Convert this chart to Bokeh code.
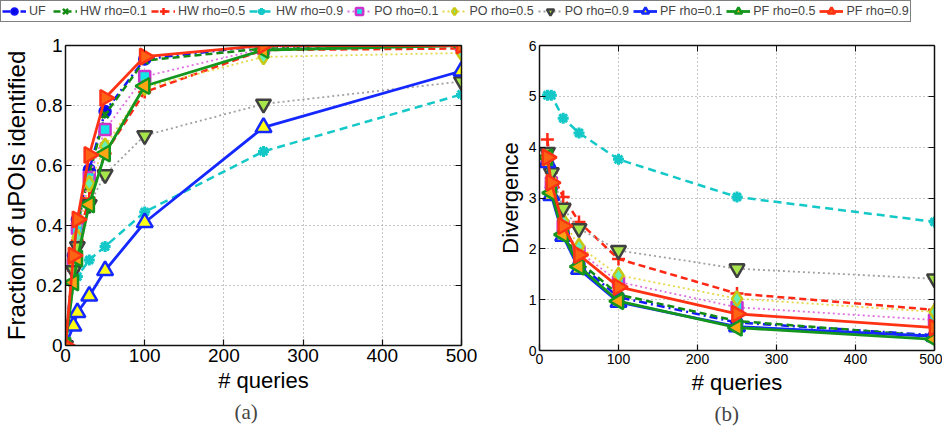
import math
from bokeh.plotting import figure
from bokeh.models import (Legend, LegendItem, FixedTicker, Title, ColumnDataSource,
                          Range1d, LinearAxis)
from bokeh.layouts import column, row
from bokeh.embed import file_html
from bokeh.resources import INLINE

# ---------------- data ----------------
series_names = ["UF", "HW rho=0.1", "HW rho=0.5", "HW rho=0.9", "PO rho=0.1",
                "PO rho=0.5", "PO rho=0.9", "PF rho=0.1", "PF rho=0.5", "PF rho=0.9"]

queries_a = [0, 10, 15, 30, 50, 100, 250, 500]
frac_uf  = [0, 0.30, 0.42, 0.585, 0.78, 0.955, 1.0, 1.0]
frac_hw1 = [0, 0.28, 0.40, 0.57, 0.77, 0.95, 0.99, 1.0]
frac_hw5 = [0, 0.25, 0.35, 0.49, 0.64, 0.845, 0.985, 0.99]
frac_hw9 = [0, 0.21, 0.23, 0.285, 0.33, 0.445, 0.647, 0.837]
frac_po1 = [0, 0.27, 0.39, 0.56, 0.72, 0.897, 0.99, 1.0]
frac_po5 = [0, 0.26, 0.36, 0.54, 0.665, 0.86, 0.962, 0.975]
frac_po9 = [0, 0.25, 0.33, 0.47, 0.57, 0.70, 0.805, 0.88]
frac_pf1 = [0, 0.065, 0.11, 0.165, 0.25, 0.41, 0.727, 0.915]
frac_pf5 = [0, 0.21, 0.29, 0.47, 0.64, 0.865, 0.985, 1.0]
frac_pf9 = [0, 0.30, 0.42, 0.635, 0.825, 0.963, 1.0, 1.0]

queries_b = [10, 15, 30, 50, 100, 250, 500]
div_uf  = [3.7, 3.2, 2.3, 1.7, 1.05, 0.55, 0.30]
div_hw1 = [3.75, 3.2, 2.35, 1.75, 1.1, 0.58, 0.28]
div_hw5 = [4.15, 3.5, 3.02, 2.53, 1.8, 1.12, 0.80]
div_hw9 = [5.02, 5.02, 4.57, 4.28, 3.76, 3.02, 2.53]
div_po1 = [3.75, 3.3, 2.45, 1.95, 1.35, 0.85, 0.60]
div_po5 = [3.8, 3.35, 2.55, 2.05, 1.48, 1.02, 0.76]
div_po9 = [3.9, 3.5, 2.8, 2.4, 1.97, 1.61, 1.41]
div_pf1 = [3.7, 3.05, 2.25, 1.6, 0.95, 0.47, 0.28]
div_pf5 = [3.8, 3.1, 2.28, 1.65, 0.97, 0.45, 0.22]
div_pf9 = [3.8, 3.3, 2.45, 1.88, 1.25, 0.72, 0.45]

x_ticks = [0, 100, 200, 300, 400, 500]
frac_ticks = [0, 0.2, 0.4, 0.6, 0.8, 1.0]
div_ticks = [0, 1, 2, 3, 4, 5, 6]

frac_data = [frac_uf, frac_hw1, frac_hw5, frac_hw9, frac_po1,
             frac_po5, frac_po9, frac_pf1, frac_pf5, frac_pf9]
div_data = [div_uf, div_hw1, div_hw5, div_hw9, div_po1,
            div_po5, div_po9, div_pf1, div_pf5, div_pf9]

# ---------------- styles ----------------
SANS = "Liberation Sans"
styles = [
    dict(line="#1414ff", lw=2.5, dash="8 4 2 4", marker="circle", size=12, angle=0,
         edge="#1414ff", fill="#0a0ae6", mlw=1.5),
    dict(line="#138a13", lw=2.5, dash="7 4", marker="x", size=10, angle=0,
         edge="#138a13", fill="#138a13", mlw=2.5),
    dict(line="#ff2814", lw=2.5, dash="7 4", marker="cross", size=13, angle=0,
         edge="#ff2814", fill="#ff2814", mlw=2.5),
    dict(line="#14c8c8", lw=2.5, dash="8 5", marker="asterisk", size=11, angle=0,
         edge="#14c8c8", fill="#14c8c8", mlw=3),
    dict(line="#e070e0", lw=1.8, dash="2 3", marker="square", size=11, angle=0,
         edge="#cc33cc", fill="#14e6e6", mlw=2.5),
    dict(line="#e6d84a", lw=1.8, dash="2 3", marker="diamond", size=15, angle=0,
         edge="#c8c814", fill="#66f0b4", mlw=2.5),
    dict(line="#a0a0a0", lw=1.8, dash="2 3", marker="inverted_triangle", size=15, angle=0,
         edge="#404040", fill="#a6e64a", mlw=2.5),
    dict(line="#1428ff", lw=2.8, dash="solid", marker="triangle", size=16, angle=0,
         edge="#1428ff", fill="#ffff14", mlw=2.5),
    dict(line="#14961e", lw=2.8, dash="solid", marker="triangle", size=16, angle=math.pi / 2,
         edge="#14961e", fill="#ffa514", mlw=2.5),
    dict(line="#ff3214", lw=2.8, dash="solid", marker="triangle", size=16, angle=-math.pi / 2,
         edge="#ff3214", fill="#ff6414", mlw=2.5),
]


def add_series(p, xs, ys, st):
    src = ColumnDataSource(dict(x=xs, y=ys))
    l = p.line("x", "y", source=src, line_color=st["line"], line_width=st["lw"],
               line_dash=st["dash"])
    m = p.scatter("x", "y", source=src, marker=st["marker"], size=st["size"],
                  angle=st["angle"], line_color=st["edge"], fill_color=st["fill"],
                  line_width=st["mlw"])
    return [l, m]


def style_axes(p, tick_font, ticks_x, ticks_y, ylabel_size, overrides_y=None):
    p.xaxis.ticker = FixedTicker(ticks=ticks_x)
    p.yaxis.ticker = FixedTicker(ticks=ticks_y)
    if overrides_y:
        p.yaxis.major_label_overrides = overrides_y
    for ax in p.xaxis + p.yaxis:
        ax.major_tick_in = 6
        ax.major_tick_out = 0
        ax.minor_tick_line_color = None
        ax.axis_line_width = 1.5
        ax.axis_line_color = "#111111"
        ax.major_tick_line_color = "#111111"
        ax.major_tick_line_width = 1.2
        ax.major_label_text_font = SANS
        ax.major_label_text_font_size = tick_font
        ax.major_label_text_color = "black"
        ax.major_label_standoff = 3
        ax.axis_label_text_font = SANS
        ax.axis_label_text_font_size = "22px"
        ax.axis_label_text_font_style = "normal"
        ax.axis_label_text_color = "black"
        ax.axis_label_standoff = 3
    p.yaxis.axis_label_text_font_size = ylabel_size
    # mirrored box axes (ticks only)
    for side, ticks in (("right", ticks_y), ("above", ticks_x)):
        ax = LinearAxis(ticker=FixedTicker(ticks=ticks), major_tick_in=6, major_tick_out=0,
                        minor_tick_line_color=None, axis_line_width=1.5,
                        axis_line_color="#111111", major_tick_line_color="#111111",
                        major_label_text_font_size="1px", major_label_text_color=None,
                        major_label_standoff=0)
        p.add_layout(ax, side)
    for g in (p.xgrid, p.ygrid):
        g.grid_line_color = "#8c8c8c"
        g.grid_line_dash = "1 3"
        g.grid_line_width = 1
    p.outline_line_color = None
    p.background_fill_color = "white"
    p.border_fill_color = "white"


# ---------------- panel (a) ----------------
p1 = figure(frame_width=396, frame_height=300, x_range=Range1d(0, 500), y_range=Range1d(0, 1),
            toolbar_location=None, output_backend="svg",
            min_border_left=55, min_border_right=23, min_border_top=8, min_border_bottom=83)
for ys, st in zip(frac_data, styles):
    add_series(p1, queries_a, ys, st)
p1.xaxis.axis_label = "# queries"
p1.yaxis.axis_label = "Fraction of uPOIs identified"
style_axes(p1, "19px", x_ticks, frac_ticks, "24px", {0: "0", 1: "1"})
p1.add_layout(Title(text="(a)", align="left", offset=169, text_font="Liberation Serif",
                    text_font_size="21px", text_font_style="normal", standoff=4), "below")

# ---------------- panel (b) ----------------
p2 = figure(frame_width=395, frame_height=305, x_range=Range1d(0, 500), y_range=Range1d(0, 6),
            toolbar_location=None, output_backend="svg",
            min_border_left=55, min_border_right=8, min_border_top=9, min_border_bottom=77)
for ys, st in zip(div_data, styles):
    add_series(p2, queries_b, ys, st)
p2.xaxis.axis_label = "# queries"
p2.yaxis.axis_label = "Divergence"
style_axes(p2, "14px", x_ticks, div_ticks, "22px")
p2.add_layout(Title(text="(b)", align="left", offset=175, text_font="Liberation Serif",
                    text_font_size="21px", text_font_style="normal", standoff=4), "below")

# ---------------- shared legend (its glyphs reuse the data, kept out of view) ----------------
leg = figure(width=932, height=36, x_range=Range1d(-20, -10), y_range=Range1d(0, 1),
             toolbar_location=None, output_backend="svg", x_axis_location=None,
             y_axis_location=None, min_border=0, outline_line_color=None)
leg.xgrid.visible = False
leg.ygrid.visible = False
items = []
for name, ys, st in zip(series_names, frac_data, styles):
    rs = add_series(leg, queries_a, ys, st)
    items.append(LegendItem(label=name, renderers=rs))
legend = Legend(items=items, orientation="horizontal", location="top_left", margin=0,
                padding=1, spacing=4, glyph_width=24, glyph_height=18, label_height=18,
                label_standoff=3, label_text_font=SANS, label_text_font_size="12.5px",
                border_line_color="black", border_line_width=1.5,
                background_fill_color="white", background_fill_alpha=1.0)
leg.add_layout(legend, "center")

layout = column(leg, row(p1, p2))
open("out.html", "w").write(file_html(layout, INLINE))
